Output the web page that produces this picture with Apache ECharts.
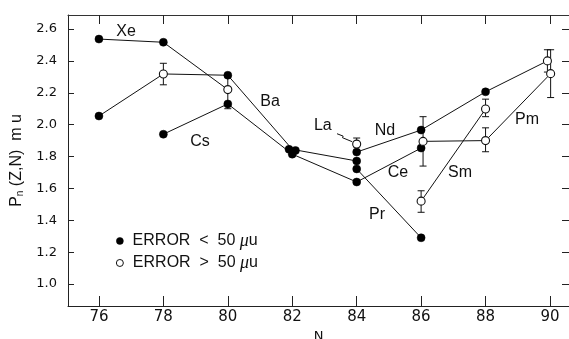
<!DOCTYPE html>
<html>
<head>
<meta charset="utf-8">
<script src="https://cdn.jsdelivr.net/npm/echarts@6/dist/echarts.min.js"></script>
<style>
html,body{margin:0;padding:0;background:#fff;}
#chart{width:569px;height:339px;}
</style>
</head>
<body>
<div id="chart"></div>
<script>
// ---- data ----
const xTicks = [76, 78, 80, 82, 84, 86, 88, 90];
const yTicks = [1.0, 1.2, 1.4, 1.6, 1.8, 2.0, 2.2, 2.4, 2.6];

const lineXe = [[76, 2.537], [78, 2.517], [80, 2.22]];
const lineBa = [[76, 2.054], [78, 2.318], [80, 2.31], [82, 1.845], [84, 1.772]];
const lineCs = [[78, 1.94], [80, 2.13], [82, 1.815], [84, 1.64], [86, 1.853]];
const lineNd = [[84, 1.828], [86, 1.966], [88, 2.206], [89.92, 2.40]];
const linePr = [[84, 1.722], [86, 1.29]];
const lineSm = [[86, 1.52], [88, 2.098]];
const linePm = [[86.06, 1.895], [88, 1.90], [90.02, 2.32]];

const filledPts = [[76, 2.537], [78, 2.517], [76, 2.054], [80, 2.31], [78, 1.94], [80, 2.13],
  [81.9, 1.845], [82, 1.815], [82.1, 1.838], [84, 1.828], [84, 1.772], [84, 1.722], [84, 1.64],
  [86, 1.966], [86, 1.853], [86, 1.29], [88, 2.206]];
const openPts = [[78, 2.318], [80, 2.22], [84, 1.878], [86.06, 1.895], [86, 1.52], [88, 2.098],
  [88, 1.90], [89.92, 2.40], [90.02, 2.32]];

// error bars: [x, low, high]
const errBars = [[78, 2.25, 2.385], [80, 2.10, 2.30], [84, 1.86, 1.916], [86.06, 1.74, 2.05],
  [86, 1.45, 1.585], [88, 2.05, 2.16], [88, 1.83, 1.98], [89.92, 2.33, 2.47], [90.02, 2.17, 2.47]];

// element labels: [text, x, y]
const elemLabels = [['Xe', 76.84, 2.581], ['Cs', 79.14, 1.891], ['Ba', 81.31, 2.142],
  ['La', 82.95, 1.991], ['Nd', 84.88, 1.96], ['Ce', 85.28, 1.696], ['Pr', 84.63, 1.433],
  ['Sm', 87.21, 1.696], ['Pm', 89.29, 2.029]];

// La pointer
const laArrow = [[83.39, 1.943], [83.58, 1.928], [83.56, 1.918], [83.86, 1.893]];

// legend entries: [x, y, kind]
const legendPts = [[76.65, 1.27, 'filled'], [76.65, 1.132, 'open']];
const legendText = ['ERROR  <  50 ', 'ERROR  >  50 '];

const X_MIN = 75.04, X_MAX = 90.59, Y_MIN = 0.862, Y_MAX = 2.688;

const chart = echarts.init(document.getElementById('chart'));

function lineSeries(d) {
  return { type: 'line', data: d, symbol: 'none', silent: true,
    lineStyle: { color: '#111', width: 1 }, z: 2, animation: false };
}

const option = {
  animation: false,
  backgroundColor: '#fff',
  grid: { left: 68, right: 0, top: 15, bottom: 33, containLabel: false, outerBoundsMode: 'none' },
  xAxis: [{
    type: 'value', min: X_MIN, max: X_MAX, position: 'bottom',
    name: 'N', nameLocation: 'middle', nameGap: 22,
    nameTextStyle: { fontFamily: 'DejaVu Sans', fontSize: 13, color: '#111' },
    axisLine: { lineStyle: { color: '#222', width: 1 } },
    axisTick: { inside: true, length: 10, customValues: xTicks, lineStyle: { color: '#222' } },
    axisLabel: { customValues: xTicks, margin: 4, fontFamily: 'DejaVu Sans', fontSize: 15, color: '#111' },
    splitLine: { show: false }
  }, {
    type: 'value', min: X_MIN, max: X_MAX, position: 'top',
    axisLine: { lineStyle: { color: '#333', width: 1 } },
    axisTick: { inside: true, length: 9, customValues: xTicks, lineStyle: { color: '#222' } },
    axisLabel: { show: false }, splitLine: { show: false }
  }],
  yAxis: [{
    type: 'value', min: Y_MIN, max: Y_MAX,
    name: '{p|P}{s|n}{p| (Z,N)  m u}', nameLocation: 'middle', nameGap: 40, nameRotate: 90,
    nameTextStyle: {
      rich: {
        p: { fontFamily: 'Liberation Sans', fontSize: 16, color: '#111' },
        s: { fontFamily: 'Liberation Sans', fontSize: 10, color: '#111', padding: [8, 0, 0, 0] }
      }
    },
    axisLine: { lineStyle: { color: '#222', width: 1 } },
    axisTick: { inside: true, length: 6, customValues: yTicks, lineStyle: { color: '#222' } },
    axisLabel: { customValues: yTicks, margin: 11, fontFamily: 'DejaVu Sans', fontSize: 13, color: '#111',
      formatter: v => v.toFixed(1) },
    splitLine: { show: false }
  }, {
    type: 'value', min: Y_MIN, max: Y_MAX, position: 'right',
    axisLine: { show: false },
    axisTick: { inside: true, length: 7, customValues: yTicks, lineStyle: { color: '#222' } },
    axisLabel: { show: false }, splitLine: { show: false }
  }],
  series: [
    lineSeries(lineXe), lineSeries(lineBa), lineSeries(lineCs), lineSeries(lineNd),
    lineSeries(linePr), lineSeries(lineSm), lineSeries(linePm),
    {
      type: 'custom', data: errBars, z: 3, silent: true,
      renderItem: function (params, api) {
        const x = api.value(0);
        const lo = api.coord([x, api.value(1)]);
        const hi = api.coord([x, api.value(2)]);
        const w = 3.5;
        const st = { stroke: '#111', lineWidth: 1 };
        return { type: 'group', children: [
          { type: 'line', shape: { x1: lo[0], y1: lo[1], x2: hi[0], y2: hi[1] }, style: st },
          { type: 'line', shape: { x1: lo[0] - w, y1: lo[1], x2: lo[0] + w, y2: lo[1] }, style: st },
          { type: 'line', shape: { x1: hi[0] - w, y1: hi[1], x2: hi[0] + w, y2: hi[1] }, style: st }
        ] };
      }
    },
    {
      type: 'scatter', data: filledPts, symbol: 'circle', symbolSize: 8, z: 5, silent: true,
      itemStyle: { color: '#000', borderColor: '#000', borderWidth: 0.5, opacity: 1 }
    },
    {
      type: 'scatter', data: openPts, symbol: 'circle', symbolSize: 8, z: 5, silent: true,
      itemStyle: { color: '#fff', borderColor: '#111', borderWidth: 1.1, opacity: 1 }
    },
    {
      type: 'lines', coordinateSystem: 'cartesian2d', polyline: true, silent: true, z: 4,
      data: [{ coords: laArrow }],
      symbol: ['none', 'arrow'], symbolSize: 5,
      lineStyle: { color: '#111', width: 1, opacity: 1 }
    },
    {
      type: 'scatter', symbolSize: 0, silent: true, z: 6,
      itemStyle: { color: '#fff', opacity: 1 },
      data: elemLabels.map(d => ({ value: [d[1], d[2]], name: d[0] })),
      label: { show: true, position: 'inside', formatter: p => p.name,
        fontFamily: 'Liberation Sans', fontSize: 16, color: '#111' }
    },
    {
      type: 'scatter', silent: true, z: 6,
      data: legendPts.map((d, i) => ({
        value: [d[0], d[1]], txt: legendText[i],
        symbolSize: 7,
        itemStyle: d[2] === 'filled' ? { color: '#000', borderColor: '#000', borderWidth: 0.5, opacity: 1 }
                                     : { color: '#fff', borderColor: '#111', borderWidth: 1, opacity: 1 }
      })),
      label: { show: true, position: 'right', distance: 9,
        formatter: p => '{a|' + p.data.txt + '}{m|μ}{a|u}',
        rich: {
          a: { fontFamily: 'Liberation Sans', fontSize: 16, color: '#111' },
          m: { fontFamily: 'Liberation Serif', fontStyle: 'italic', fontSize: 18, color: '#111' }
        }
      }
    }
  ]
};
chart.setOption(option);
</script>
</body>
</html>
